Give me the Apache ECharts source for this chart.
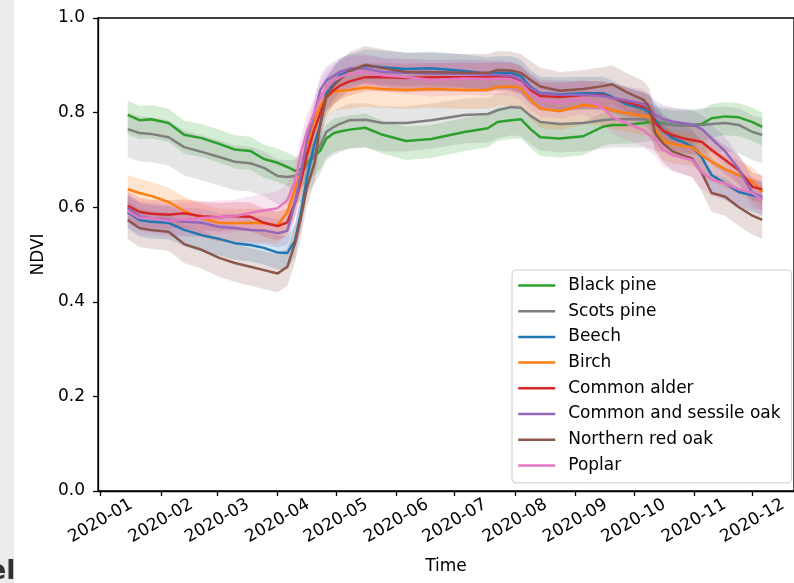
<!DOCTYPE html>
<html><head><meta charset="utf-8">
<script src="https://cdn.jsdelivr.net/npm/echarts@6/dist/echarts.min.js"></script>
<style>html,body{margin:0;padding:0;background:#fff}#c{width:794px;height:583px}</style>
</head><body><div id="c"></div><script>
const dates = ['2020-01-15','2020-01-21','2020-01-27','2020-02-05','2020-02-13','2020-02-22','2020-03-02','2020-03-10','2020-03-18','2020-03-25',
'2020-04-01','2020-04-06','2020-04-10','2020-04-13','2020-04-16','2020-04-20','2020-04-23','2020-04-26','2020-04-30','2020-05-03',
'2020-05-08','2020-05-16','2020-05-25','2020-06-06','2020-06-19','2020-07-06','2020-07-18','2020-07-23','2020-07-30','2020-08-04',
'2020-08-09','2020-08-14','2020-08-24','2020-09-05','2020-09-15','2020-09-20','2020-09-27','2020-10-06','2020-10-09','2020-10-12',
'2020-10-16','2020-10-21','2020-10-26','2020-10-31','2020-11-05','2020-11-10','2020-11-17','2020-11-24','2020-12-01','2020-12-06'];

const blackPine = [0.795,0.784,0.786,0.778,0.753,0.746,0.734,0.722,0.719,0.702, 0.694,0.685,0.677,0.680,0.693,0.708,0.720,0.745,0.757,0.760, 0.764,0.768,0.753,0.740,0.744,0.759,0.767,0.780,0.784,0.786, 0.765,0.748,0.745,0.750,0.770,0.774,0.774,0.778,0.780,0.780, 0.778,0.774,0.774,0.774,0.776,0.788,0.792,0.790,0.780,0.770];
const scotsPine = [0.765,0.757,0.755,0.748,0.727,0.717,0.706,0.696,0.693,0.683, 0.666,0.664,0.666,0.672,0.688,0.710,0.731,0.759,0.770,0.776, 0.784,0.785,0.778,0.778,0.784,0.795,0.797,0.805,0.812,0.810, 0.793,0.780,0.776,0.778,0.784,0.786,0.786,0.786,0.784,0.780, 0.776,0.774,0.772,0.772,0.774,0.776,0.778,0.774,0.759,0.753];
const beech = [0.590,0.573,0.569,0.567,0.552,0.541,0.533,0.524,0.520,0.514, 0.504,0.503,0.530,0.588,0.660,0.735,0.775,0.840,0.862,0.879, 0.888,0.899,0.896,0.892,0.894,0.888,0.882,0.884,0.884,0.877, 0.854,0.841,0.839,0.841,0.841,0.833,0.818,0.808,0.800,0.785, 0.762,0.746,0.738,0.728,0.705,0.668,0.650,0.632,0.625,0.619];
const birch = [0.638,0.630,0.624,0.611,0.592,0.577,0.567,0.566,0.567,0.566, 0.562,0.590,0.640,0.670,0.727,0.785,0.815,0.832,0.844,0.846, 0.848,0.853,0.850,0.848,0.850,0.848,0.848,0.854,0.855,0.852, 0.827,0.808,0.803,0.816,0.812,0.805,0.799,0.793,0.791,0.765, 0.740,0.733,0.730,0.727,0.710,0.696,0.680,0.668,0.655,0.632];
const commonAlder = [0.603,0.590,0.586,0.584,0.587,0.581,0.579,0.581,0.580,0.567, 0.560,0.568,0.610,0.655,0.710,0.765,0.800,0.832,0.848,0.857, 0.866,0.875,0.875,0.873,0.875,0.875,0.875,0.876,0.875,0.869, 0.848,0.835,0.833,0.837,0.837,0.831,0.823,0.812,0.808,0.778, 0.762,0.752,0.746,0.742,0.738,0.721,0.700,0.678,0.643,0.638];
const sessileOak = [0.598,0.581,0.577,0.573,0.569,0.567,0.558,0.556,0.552,0.551, 0.545,0.550,0.610,0.672,0.740,0.800,0.848,0.868,0.878,0.886, 0.893,0.893,0.886,0.884,0.882,0.882,0.880,0.880,0.878,0.870, 0.852,0.840,0.838,0.838,0.835,0.831,0.826,0.818,0.810,0.795, 0.786,0.781,0.778,0.775,0.765,0.745,0.718,0.680,0.630,0.622];
const redOak = [0.573,0.556,0.552,0.548,0.522,0.510,0.493,0.482,0.474,0.467, 0.460,0.474,0.524,0.578,0.640,0.693,0.778,0.833,0.858,0.870, 0.888,0.901,0.894,0.886,0.886,0.884,0.884,0.890,0.889,0.884, 0.869,0.855,0.846,0.850,0.856,0.860,0.844,0.827,0.812,0.757, 0.735,0.718,0.710,0.703,0.672,0.630,0.622,0.600,0.582,0.573];
const poplar = [0.592,0.577,0.577,0.571,0.574,0.577,0.579,0.581,0.588,0.593, 0.598,0.615,0.655,0.715,0.760,0.800,0.833,0.852,0.868,0.875, 0.883,0.886,0.879,0.875,0.869,0.872,0.871,0.872,0.871,0.860, 0.840,0.827,0.822,0.831,0.810,0.791,0.778,0.763,0.752,0.743, 0.721,0.710,0.705,0.700,0.674,0.658,0.650,0.638,0.630,0.615];

const seriesNames = ['Black pine','Scots pine','Beech','Birch','Common alder','Common and sessile oak','Northern red oak','Poplar'];
const seriesValues = [blackPine, scotsPine, beech, birch, commonAlder, sessileOak, redOak, poplar];
const bandUp = [0.030, 0.035, 0.035, 0.030, 0.030, 0.030, 0.040, 0.035];
const bandDown = [0.040, 0.060, 0.035, 0.040, 0.030, 0.030, 0.040, 0.035];
const tickLabels = ['2020-01','2020-02','2020-03','2020-04','2020-05','2020-06','2020-07','2020-08','2020-09','2020-10','2020-11','2020-12'];

const colors = ['#2ca02c','#7f7f7f','#1f77b4','#ff7f0e','#d62728','#9467bd','#8c564b','#e377c2'];
const FONT = 'DejaVu Sans';
const DAY = 86400000;

function ts(s){ const p = s.split('-').map(Number); return Date.UTC(p[0], p[1]-1, p[2] || 1); }
const times = dates.map(ts);
const tickVals = tickLabels.map(ts);
function labelFor(v){
  for (let i=0;i<tickVals.length;i++) if (Math.abs(tickVals[i]-v) < DAY/2) return tickLabels[i];
  return '';
}
const xMin = ts('2020-01-01') - 1.27 * DAY;
const xMax = xMin + 357.6 * DAY;

const series = [];
seriesValues.forEach((vals, k) => {
  series.push({
    type: 'custom', name: seriesNames[k] + ' band', silent: true, z: 1, clip: true,
    renderItem: function(params, api){
      const pts = [];
      for (let i=0;i<vals.length;i++) pts.push(api.coord([times[i], vals[i] + bandUp[k]]));
      for (let i=vals.length-1;i>=0;i--) pts.push(api.coord([times[i], vals[i] - bandDown[k]]));
      return {type:'polygon', shape:{points: pts}, style:{fill: colors[k], opacity: 0.2}};
    },
    data: [[times[0], vals[0]]]
  });
});
seriesValues.forEach((vals, k) => {
  series.push({
    type: 'line', name: seriesNames[k], z: 3, symbol: 'none', showSymbol: false,
    color: colors[k],
    lineStyle: {width: 2.5, color: colors[k]},
    emphasis: {disabled: true},
    data: vals.map((v,i)=>[times[i], v])
  });
});

const chart = echarts.init(document.getElementById('c'), null, {renderer: 'canvas'});
chart.setOption({
  animation: false,
  backgroundColor: '#fff',
  grid: {left: 98, top: 18, right: -8, bottom: 92, show: true, borderColor: '#000', borderWidth: 1.3, backgroundColor: 'transparent'},
  xAxis: {
    type: 'value', min: xMin, max: xMax, scale: true,
    axisLine: {lineStyle: {color: '#000', width: 1.3}},
    axisTick: {show: true, length: 5, lineStyle: {color: '#000', width: 1.3}, customValues: tickVals},
    axisLabel: {customValues: tickVals, formatter: v => labelFor(v), rotate: 30, margin: 30,
      align: 'center', verticalAlign: 'middle', fontSize: 17, fontFamily: FONT, color: '#000', hideOverlap: false},
    splitLine: {show: false},
    name: 'Time', nameLocation: 'middle', nameGap: 67,
    nameTextStyle: {fontSize: 17, fontFamily: FONT, color: '#000', verticalAlign: 'top'}
  },
  yAxis: {
    type: 'value', min: 0, max: 1, interval: 0.2,
    axisLine: {show: true, lineStyle: {color: '#000', width: 1.3}},
    axisTick: {show: true, length: 5, lineStyle: {color: '#000', width: 1.3}},
    axisLabel: {formatter: v => v.toFixed(1), margin: 13, fontSize: 17, fontFamily: FONT, color: '#000'},
    splitLine: {show: false},
    name: 'NDVI', nameLocation: 'middle', nameGap: 45, nameRotate: 90,
    nameTextStyle: {fontSize: 17, fontFamily: FONT, color: '#000'}
  },
  legend: {
    orient: 'vertical', left: 512, top: 270,
    data: seriesNames, selectedMode: false,
    itemWidth: 37, itemHeight: 17, itemGap: 8.7,
    padding: [7, 11, 9, 5],
    backgroundColor: 'rgba(255,255,255,0.8)', borderColor: '#cccccc', borderWidth: 1, borderRadius: 4,
    textStyle: {fontSize: 17, fontFamily: FONT, color: '#000', padding: [0, 0, 0, 8], lineHeight: 17},
    itemStyle: {opacity: 0}, lineStyle: {width: 2.5}
  },
  graphic: [
    {type: 'rect', left: 0, top: 0, z: 100, shape: {width: 14, height: 583}, style: {fill: '#ebebeb'}},
    {type: 'text', left: -12, top: 558, z: 101, style: {text: 'el', font: 'bold 27px "DejaVu Sans"', fill: '#333'}}
  ],
  series: series
});
</script></body></html>
